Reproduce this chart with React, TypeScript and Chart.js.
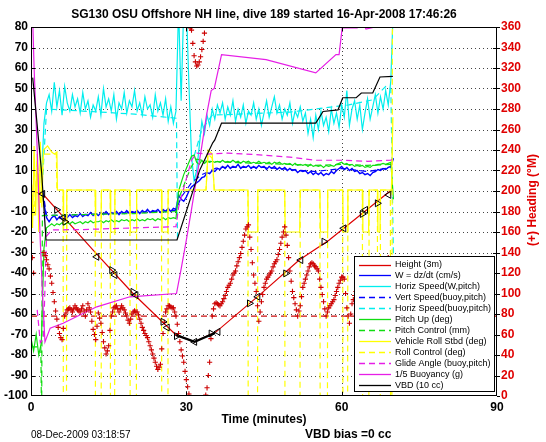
import React, { useEffect, useRef } from 'react';
import { Chart, registerables } from 'chart.js';

Chart.register(...registerables);

const FONT = '"Liberation Sans", Arial, Helvetica, sans-serif';

const titleText = 'SG130 OSU Offshore NH line, dive 189 started 16-Apr-2008 17:46:26';
const xTitle = 'Time (minutes)';
const y2Title = '(+) Heading (\u00B0M)';
const dateText = '08-Dec-2009 03:18:57';
const biasText = 'VBD bias =0 cc';

const xTicks = [0, 30, 60, 90];
const yTicks = [-100, -90, -80, -70, -60, -50, -40, -30, -20, -10, 0, 10, 20, 30, 40, 50, 60, 70, 80];
const y2Ticks = [0, 20, 40, 60, 80, 100, 120, 140, 160, 180, 200, 220, 240, 260, 280, 300, 320, 340, 360];

const legendLabels = [
  'Height (3m)',
  'W = dz/dt (cm/s)',
  'Horiz Speed(W,pitch)',
  'Vert Speed(buoy,pitch)',
  'Horiz Speed(buoy,pitch)',
  'Pitch Up (deg)',
  'Pitch Control (mm)',
  'Vehicle Roll Stbd (deg)',
  'Roll Control (deg)',
  'Glide Angle (buoy,pitch)',
  '1/5 Buoyancy (g)',
  'VBD (10 cc)',
];

// shared sampling grid (minutes)
const tGrid = [
  0, 0.5, 1, 1.5, 2, 2.5, 3, 3.5, 4, 4.5,
  5, 5.5, 6, 6.5, 7, 7.5, 8, 8.5, 9, 9.5,
  10, 10.5, 11, 11.5, 12, 12.5, 13, 13.5, 14, 14.5,
  15, 15.5, 16, 16.5, 17, 17.5, 18, 18.5, 19, 19.5,
  20, 20.5, 21, 21.5, 22, 22.5, 23, 23.5, 24, 24.5,
  25, 25.5, 26, 26.5, 27, 27.5, 28, 28.5, 29, 29.5,
  30, 30.5, 31, 31.5, 32, 32.5, 33, 33.5, 34, 34.5,
  35, 35.5, 36, 36.5, 37, 37.5, 38, 38.5, 39, 39.5,
  40, 40.5, 41, 41.5, 42, 42.5, 43, 43.5, 44, 44.5,
  45, 45.5, 46, 46.5, 47, 47.5, 48, 48.5, 49, 49.5,
  50, 50.5, 51, 51.5, 52, 52.5, 53, 53.5, 54, 54.5,
  55, 55.5, 56, 56.5, 57, 57.5, 58, 58.5, 59, 59.5,
  60, 60.5, 61, 61.5, 62, 62.5, 63, 63.5, 64, 64.5,
  65, 65.5, 66, 66.5, 67, 67.5, 68, 68.5, 69, 69.5,
  70,
];

// offset grid for the denser heading samples
const tGridQ = [
  0.25, 0.75, 1.25, 1.75, 2.25, 2.75, 3.25, 3.75, 4.25, 4.75,
  5.25, 5.75, 6.25, 6.75, 7.25, 7.75, 8.25, 8.75, 9.25, 9.75,
  10.25, 10.75, 11.25, 11.75, 12.25, 12.75, 13.25, 13.75, 14.25, 14.75,
  15.25, 15.75, 16.25, 16.75, 17.25, 17.75, 18.25, 18.75, 19.25, 19.75,
  20.25, 20.75, 21.25, 21.75, 22.25, 22.75, 23.25, 23.75, 24.25, 24.75,
  25.25, 25.75, 26.25, 26.75, 27.25, 27.75, 28.25, 28.75, 29.25, 29.75,
  30.25, 30.75, 31.25, 31.75, 32.25, 32.75, 33.25, 33.75, 34.25, 34.75,
  35.25, 35.75, 36.25, 36.75, 37.25, 37.75, 38.25, 38.75, 39.25, 39.75,
  40.25, 40.75, 41.25, 41.75, 42.25, 42.75, 43.25, 43.75, 44.25, 44.75,
  45.25, 45.75, 46.25, 46.75, 47.25, 47.75, 48.25, 48.75, 49.25, 49.75,
  50.25, 50.75, 51.25, 51.75, 52.25, 52.75, 53.25, 53.75, 54.25, 54.75,
  55.25, 55.75, 56.25, 56.75, 57.25, 57.75, 58.25, 58.75, 59.25, 59.75,
  60.25, 60.75, 61.25, 61.75, 62.25, 62.75, 63.25, 63.75, 64.25, 64.75,
  65.25, 65.75, 66.25, 66.75, 67.25, 67.75, 68.25, 68.75, 69.25, 69.75,
];

const horizSpeedW = [
  null, null, null, null, 4, 33, 43, 47, 39, 53,
  41, 49, 37, 51, 43, 39, 47, 41, 45, 38,
  48, 40, 44, 36, 42, 39, 46, 37, 50, 41,
  45, 39, 47, 35, 43, 40, 48, 38, 44, 41,
  49, 39, 43, 37, 46, 40, 42, 36, 47, 39,
  43, 37, 45, 34, 41, 33, 39, 90, 44, 90,
  90, 52, 17, 5, 10, 22, 34, 28, 37, 32,
  40, 35, 42, 38, 43, 35, 41, 37, 44, 34,
  40, 36, 42, 33, 39, 37, 43, 35, 40, 32,
  38, 44, 36, 41, 46, 38, 42, 35, 40, 37,
  43, 33, 39, 36, 41, 34, 38, 28, 35, 26,
  37, 30, 39, 32, 36, 29, 40, 33, 38, 31,
  42, 36, 49, 32, 40, 44, 35, 42, 30, 38,
  45, 35, 41, 47, 38, 46, 40, 49, 42, 54,
  92,
];

const wSpeed = [
  null, null, null, null, 0, -6, -13, -15, -13, -12,
  -14, -12.5, -13.5, -12, -13, -11.5, -13, -12, -12.5, -11,
  -12.5, -11.5, -12, -10.5, -12, -11, -12, -10.5, -11.5, -10,
  -11.5, -10.5, -11, -10, -11.5, -10, -11, -9.5, -11, -10,
  -10.5, -9.5, -11, -9.5, -10.5, -9, -10.5, -9.5, -10, -9,
  -10.5, -9, -10, -8.5, -10, -8.5, -9, -2, -4, -5,
  -3, 0, 2, 3, 4, 5, 6.5, 7, 9, 8.5,
  10, 9.5, 11, 10.5, 12, 11, 12.5, 11, 12, 11.5,
  13, 11, 12, 11.5, 12.5, 11, 12, 11, 12.5, 11.5,
  12, 10.5, 12, 11, 12, 10.5, 11.5, 10.5, 11.5, 10,
  11, 10, 10.5, 9, 10, 9.5, 10, 8.5, 9.5, 8,
  9, 8, 9, 7.5, 8.5, 8, 9.5, 8.5, 10, 11,
  12, 10.5, 11.5, 10, 11, 9.5, 10, 8.5, 9, 8,
  8.5, 7.5, 9, 9.5, 10.5, 10, 11, 10.5, 11.5, 12,
  16,
];

const pitchUp = [
  -72, -78, -70, -80, -74, -28, -18, -17, -16, -17,
  -16, -16.5, -15.5, -16.5, -15.5, -16, -15, -16, -15.5, -15,
  -16, -15, -15.5, -14.5, -15.5, -15, -15, -14.5, -15.5, -14.5,
  -15, -14, -15, -14.5, -15, -14, -14.5, -14, -15, -14,
  -14.5, -13.5, -14.5, -14, -14.5, -13.5, -14, -13.5, -14.5, -13.5,
  -14, -13, -14, -13, -13.5, -13, -13.5, 0, 4, 8,
  11, 14, 17, 17.5, 14, 13, 15, 13.5, 14.5, 14,
  14.5, 14, 14.5, 14, 15, 14, 14.5, 14, 15, 14,
  14.5, 13.5, 14.5, 14, 14.5, 13.5, 14, 13.5, 14.5, 13.5,
  14, 13.5, 14, 13, 14, 13.5, 14, 13, 13.5, 13,
  13.5, 12.5, 13.5, 12.5, 13, 12.5, 13, 12, 13, 12,
  12.5, 12, 12.5, 11.5, 12.5, 12, 12.5, 12, 13, 13.5,
  14, 13, 13.5, 12.5, 13, 12, 12.5, 12, 12.5, 11.5,
  12, 11.5, 12.5, 12.5, 13, 13, 13.5, 13, 13.5, 14,
  -4,
];

// heading in degrees (right axis), on tGrid
const heading = [
  150, 120, null, null, null, 140, 133, 124, 110, 92,
  75, 61, 55, 78, 84, 86, 82, 88, 84, 82,
  88, 78, 90, 82, 65, 55, 81, 71, 53, 41,
  49, 78, 86, 88, 82, 88, 84, 78, 71, 80,
  83, 82, 75, 67, 61, 57, 49, 41, 33, 26,
  31, 61, 82, 88, 87, 86, 78, 61, 45, 33,
  16, 2, 357, 332, 322, 326, 338, 354, 8, 33,
  78, 90, 90, 88, 92, 98, 106, 110, 118, 122,
  131, 139, 151, 163, 167, 143, 118, 102, 73, 92,
  106, 114, 118, 122, 129, 133, 143, 155, 165, 147,
  122, 102, 90, 78, 88, 106, 114, 122, 129, 129,
  126, 122, 106, 92, 78, 86, 90, 94, 102, 110,
  116, 114, 86, 71, 90, 98, 106, 112, 118, 122,
  126, 129, 122, 112, 102, 114, 122, 131, 135, null,
  null,
];

// heading in degrees, on tGridQ
const headingQ = [
  135, null, null, null, null, 137, 128, 117, 101, 83,
  67, 57, 66, 81, 85, 84, 85, 86, 83, 85,
  83, 84, 86, 73, 60, 68, 76, 62, 47, 44,
  64, 82, 87, 85, 85, 86, 81, 74, 75, 82,
  82, 79, 71, 64, 59, 53, 45, 37, 29, 28,
  46, 72, 85, 88, 86, 82, 70, 53, 39, 24,
  9, 359, 344, 326, 323, 331, 346, 1, 20, 56,
  85, 91, 89, 90, 95, 102, 108, 114, 120, 127,
  135, 145, 157, 165, 155, 130, 110, 88, 82, 99,
  110, 116, 120, 126, 131, 138, 149, 160, 157, 135,
  112, 96, 84, 83, 97, 110, 118, 126, 130, 127,
  124, 114, 99, 85, 82, 88, 92, 98, 106, 113,
  116, 100, 78, 80, 94, 102, 109, 115, 120, 124,
  128, 126, 117, 107, 108, 118, 127, 133, null, null,
];

const headingTargetTime = [0, 90];
const headingTarget = [78, 78];

const heightTime = [0, 2.25, 12.0, 19.7, 28.05, 31.6, 35.75, 44.1, 51.8, 57.6, 69.85];
const heightVal = [0, -1.4, -28.8, -50, -70.3, -73.6, -68.7, -50.8, -33.7, -23.9, 1];

const apogeeTime = [28.05, 31.6, 35.5];
const apogeeVal = [-70.3, -73.6, -69.3];

const markTime = [2.25, 4.96, 6.2, 6.56, 12.7, 15.6, 16.2, 19.7, 20.25, 25.5, 26.3, 28.1, 31.6, 34.8, 36.1, 42.2, 43.8, 49.2, 52.1, 56.6, 60.4, 64.0, 64.6, 66.9, 69.1];
const markVal = [-1.4, -9.2, -13.1, -15, -32.1, -38.6, -41, -49.2, -50.8, -63.8, -66.6, -70.8, -73.6, -69.5, -68.7, -54.8, -51.6, -40.2, -33.7, -24.7, -18.2, -11.2, -9.2, -6, -1.9];

const vbdTime = [0.33, 2.06, 2.9, 28.2, 32.6, 35.1, 35.5, 36.8, 55.0, 56.4, 59.3, 60.2, 62.8, 63.8, 66.0, 67.4, 69.9];
const vbdVal = [55.3, 8.8, -23.9, -23.9, 10.3, 23.5, 24.9, 33.1, 33.1, 38.8, 39.6, 45.5, 45.5, 47.8, 47.8, 55.6, 55.9];

const buoyTime = [0.2, 0.6, 1.2, 1.8, 2.3, 2.7, 3.7, 6.2, 12.7, 19.1, 28.1, 29, 30, 31, 32, 33, 33.9, 34.8, 35.4, 36.8, 45.4, 55.0, 58.9, 59.5, 60.1, 63.0, 63.7, 64.7, 69.9];
const buoyVal = [95, 60, 20, -25, -55, -73.6, -66.9, -64.5, -56.5, -51.6, -50, -38, -24, -9, 6.5, 22, 37, 49, 50, 66.5, 64.1, 57.6, 66.5, 66.5, 79.6, 79.6, 84, 79, 82];

const glideTime = [1.2, 1.8, 2.4, 3.0, 4, 10, 20, 28, 28.5, 30, 31, 32, 34, 38, 45, 50, 55, 60, 65, 69.5, 70];
const glideVal = [-58, -74, -72, -22, -19, -18.8, -18, -17.4, -8, 6, 15, 18.5, 18, 18.5, 17.5, 16.5, 15, 15, 14.5, 15, 16];

const vertBuoyTime = [2.3, 3, 10, 20, 28, 29, 31, 33, 36, 45, 55, 60, 65, 69.5];
const vertBuoyVal = [0, -12, -11.5, -10.5, -9.5, -3, 4, 8, 11.5, 11.5, 9.5, 11, 9.5, 11.5];

const horizBuoyTime = [2.3, 3, 10, 20, 28.1, 28.3, 28.4, 31.5, 33, 35, 40, 45, 50, 55, 61.4, 66, 68.5, 69.5, 70];
const horizBuoyVal = [8, 40, 39, 37.5, 35.5, -25, null, 17, 30, 37, 37.5, 38, 38.5, 40, 42, 44.5, 51, 50, -33];

const pitchCtrlTime = [0, 1.9, 2.05, 2.2, 10, 20, 28, 28.5, 30, 31, 32, 34, 40, 50, 55, 60, 65, 69.5, 70];
const pitchCtrlVal = [-76, -76, -115, -12, -11.5, -11, -10, -4, 6, 12, 15.5, 14.5, 13.8, 13, 12.5, 13, 12.5, 13, 13];

const rollTime = [
  0, 0.3, 0.6, 0.9, 1.2, 1.5, 1.8, 2.1, 2.4, 3.2, 4, 4.5, 5, 5.1,
  6.2, 6.3, 6.8, 6.9, 12.4, 12.5, 13.5, 13.6, 15.3, 15.4, 16.1, 16.2,
  19.1, 19.2, 20.3, 20.4, 25.2, 25.3, 26.4, 26.5,
  33.8, 34.2, 35, 35.4,
  41.9, 42, 43.7, 43.8, 49, 49.1, 51.9, 52, 55.8, 55.9, 57.2, 57.3,
  60.2, 60.3, 61.1, 61.2, 64, 64.1, 65.2, 65.3, 66.9, 67, 67.4, 67.5,
  69.6, 69.9,
];
const rollVal = [
  12, -18, 22, -12, 18, -20, 24, -8, 20, 22, 19, 18, 19, 0.5,
  0.5, -20, -20, 0.5, 0.5, -20, -20, 0.5, 0.5, -20, -20, 0.5,
  0.5, -20, -20, 0.5, 0.5, -20, -20, 0.5,
  0.5, 20, 18, 0.5,
  0.5, -20, -20, 0.5, 0.5, -20, -20, 0.5, 0.5, -20, -20, 0.5,
  0.5, -20, -20, 0.5, 0.5, -20, -20, 0.5, 0.5, -20, -20, 0.5,
  0.5, 36,
];

const rollCtrlTime = [
  0, 0.6, 1.2, 1.8, 2.4, 4.9, 5,
  6.2, 6.25, 6.85, 6.9, 12.4, 12.45, 13.55, 13.6, 15.3, 15.35, 16.15, 16.2,
  19.1, 19.15, 20.35, 20.4, 25.2, 25.25, 26.45, 26.5,
  33.8, 34.2, 35, 35.4,
  41.9, 41.95, 43.75, 43.8, 49, 49.05, 51.95, 52, 55.8, 55.85, 57.25, 57.3,
  60.2, 60.25, 61.15, 61.2, 64, 64.05, 65.25, 65.3, 66.9, 66.95, 67.45, 67.5,
  69.4, 69.45, 69.7, 69.8,
];
const rollCtrlVal = [
  8, -12, 15, -6, 18, 18, 0.5,
  0.5, -115, -115, 0.5, 0.5, -115, -115, 0.5, 0.5, -115, -115, 0.5,
  0.5, -115, -115, 0.5, 0.5, -115, -115, 0.5,
  0.5, 18, 16, 0.5,
  0.5, -115, -115, 0.5, 0.5, -115, -115, 0.5, 0.5, -115, -115, 0.5,
  0.5, -115, -115, 0.5, 0.5, -115, -115, 0.5, 0.5, -115, -115, 0.5,
  0.5, -115, -115, 85,
];

const zip = (ts: number[], vs: (number | null)[]) => ts.map((t, i) => ({ x: t, y: vs[i] }));

const RED = '#dd0000';
const BLUE = '#0000ff';
const CYAN = '#00eeee';
const GREEN = '#11dd11';
const YELLOW = '#ffff00';
const MAGENTA = '#e61ee6';
const BLACK = '#000000';
const DASH = [6, 4];

const legendStyles = [
  { color: RED, dash: [] as number[] },
  { color: BLUE, dash: [] },
  { color: CYAN, dash: [] },
  { color: BLUE, dash: DASH },
  { color: CYAN, dash: DASH },
  { color: GREEN, dash: [] },
  { color: GREEN, dash: DASH },
  { color: YELLOW, dash: [] },
  { color: YELLOW, dash: DASH },
  { color: MAGENTA, dash: DASH },
  { color: MAGENTA, dash: [] },
  { color: BLACK, dash: [] },
];

function line(label: string, data: any[], color: string, order: number, extra: any = {}) {
  return {
    label,
    data,
    showLine: true,
    borderColor: color,
    backgroundColor: color,
    borderWidth: 1.2,
    pointRadius: 0,
    spanGaps: false,
    clip: 0,
    order,
    yAxisID: 'y',
    ...extra,
  };
}

function crosses(label: string, data: any[], order: number) {
  return {
    label,
    data,
    showLine: false,
    pointStyle: 'cross',
    pointRadius: 2.6,
    pointBorderColor: '#cc0000',
    pointBorderWidth: 1.1,
    clip: 0,
    order,
    yAxisID: 'y2',
  };
}

export default function App() {
  const ref = useRef<HTMLCanvasElement>(null);

  useEffect(() => {
    const canvas = ref.current!;
    const datasets: any[] = [
      {
        label: 'marks',
        data: zip(markTime, markVal),
        showLine: false,
        pointStyle: 'triangle',
        pointRadius: 4,
        pointBorderColor: '#000',
        pointBackgroundColor: 'rgba(0,0,0,0)',
        pointBorderWidth: 1,
        pointRotation: (c: any) => (c.dataIndex % 2 ? 90 : -90),
        clip: 0,
        order: 0,
        yAxisID: 'y',
      },
      crosses('heading', zip(tGrid, heading), 1),
      crosses('headingQ', zip(tGridQ, headingQ), 1),
      line('apogee', zip(apogeeTime, apogeeVal), BLACK, 2, { borderWidth: 2.2 }),
      line('vbd', zip(vbdTime, vbdVal), BLACK, 3),
      line('buoy', zip(buoyTime, buoyVal), MAGENTA, 4),
      line('glide', zip(glideTime, glideVal), MAGENTA, 5, { borderDash: DASH }),
      line('rollCtrl', zip(rollCtrlTime, rollCtrlVal), YELLOW, 6, { borderDash: DASH }),
      line('roll', zip(rollTime, rollVal), YELLOW, 7),
      line('pitchCtrl', zip(pitchCtrlTime, pitchCtrlVal), GREEN, 8, { borderDash: DASH }),
      line('pitch', zip(tGrid, pitchUp), GREEN, 9),
      line('horizBuoy', zip(horizBuoyTime, horizBuoyVal), CYAN, 10, { borderDash: DASH }),
      line('vertBuoy', zip(vertBuoyTime, vertBuoyVal), BLUE, 11, { borderDash: DASH }),
      line('horizW', zip(tGrid, horizSpeedW), CYAN, 12),
      line('w', zip(tGrid, wSpeed), BLUE, 13, { borderWidth: 1.4 }),
      line('height', zip(heightTime, heightVal), RED, 14),
      line('target', zip(headingTargetTime, headingTarget), '#cc1111', 15, { borderDash: [6, 4], yAxisID: 'y2' }),
    ];

    const decor = {
      id: 'decor',
      beforeDatasetsDraw(chart: any) {
        const { ctx, chartArea: a, scales } = chart;
        ctx.save();
        ctx.strokeStyle = '#444';
        ctx.lineWidth = 1;
        ctx.setLineDash([1, 3]);
        yTicks.slice(1, -1).forEach((v) => {
          const y = Math.round(scales.y.getPixelForValue(v)) + 0.5;
          ctx.beginPath();
          ctx.moveTo(a.left, y);
          ctx.lineTo(a.right, y);
          ctx.stroke();
        });
        xTicks.slice(1, -1).forEach((v) => {
          const x = Math.round(scales.x.getPixelForValue(v)) + 0.5;
          ctx.beginPath();
          ctx.moveTo(x, a.top);
          ctx.lineTo(x, a.bottom);
          ctx.stroke();
        });
        ctx.restore();
      },
      afterDraw(chart: any) {
        const { ctx, chartArea: a, scales } = chart;
        ctx.save();
        // frame
        ctx.strokeStyle = '#000';
        ctx.lineWidth = 1;
        ctx.setLineDash([]);
        ctx.strokeRect(Math.round(a.left) + 0.5, Math.round(a.top) + 0.5, Math.round(a.right - a.left) - 1, Math.round(a.bottom - a.top) - 1);
        // ticks
        ctx.beginPath();
        yTicks.slice(1, -1).forEach((v) => {
          const y = Math.round(scales.y.getPixelForValue(v)) + 0.5;
          ctx.moveTo(a.left, y);
          ctx.lineTo(a.left + 4, y);
          ctx.moveTo(a.right, y);
          ctx.lineTo(a.right - 4, y);
        });
        xTicks.slice(1, -1).forEach((v) => {
          const x = Math.round(scales.x.getPixelForValue(v)) + 0.5;
          ctx.moveTo(x, a.bottom);
          ctx.lineTo(x, a.bottom - 4);
          ctx.moveTo(x, a.top);
          ctx.lineTo(x, a.top + 4);
        });
        y2Ticks.forEach((v) => {
          const y = Math.round(scales.y2.getPixelForValue(v)) + 0.5;
          ctx.moveTo(a.right, y);
          ctx.lineTo(a.right + 3, y);
        });
        ctx.stroke();

        // legend
        const lx = 354, ly = 256, lw = 140, lh = 135;
        ctx.fillStyle = '#fff';
        ctx.fillRect(lx, ly, lw, lh);
        ctx.strokeStyle = '#000';
        ctx.strokeRect(lx + 0.5, ly + 0.5, lw, lh);
        ctx.font = `9px ${FONT}`;
        ctx.textBaseline = 'middle';
        ctx.textAlign = 'left';
        legendLabels.forEach((lab, i) => {
          const y = ly + 8.5 + i * 10.92;
          const st = legendStyles[i];
          ctx.strokeStyle = st.color;
          ctx.lineWidth = 1.3;
          ctx.setLineDash(st.dash);
          ctx.beginPath();
          ctx.moveTo(359, Math.round(y) + 0.5);
          ctx.lineTo(391, Math.round(y) + 0.5);
          ctx.stroke();
          ctx.setLineDash([]);
          ctx.fillStyle = '#000';
          ctx.fillText(lab, 395, y + 0.5);
        });

        // texts
        ctx.fillStyle = '#000';
        ctx.textAlign = 'center';
        ctx.font = `bold 12px ${FONT}`;
        ctx.fillText(titleText, 264, 14.5);
        ctx.fillText(xTitle, 264, 420);
        ctx.textAlign = 'left';
        ctx.fillText(biasText, 305, 435);
        ctx.font = `10px ${FONT}`;
        ctx.fillText(dateText, 31, 435);
        ctx.save();
        ctx.translate(533, 200);
        ctx.rotate(-Math.PI / 2);
        ctx.textAlign = 'center';
        ctx.fillStyle = '#e00000';
        ctx.font = `bold 12px ${FONT}`;
        ctx.fillText(y2Title, 0, 0);
        ctx.restore();
        ctx.restore();
      },
    };

    const tickFont = { family: FONT, size: 12, weight: 'bold' as const };

    const chart = new Chart(canvas, {
      type: 'scatter',
      data: { datasets },
      options: {
        responsive: false,
        animation: false,
        devicePixelRatio: 1,
        events: [],
        layout: { padding: { top: 27, left: 0, right: 0, bottom: 0 } },
        plugins: {
          legend: { display: false },
          tooltip: { enabled: false },
          title: { display: false },
        },
        elements: { line: { tension: 0 } },
        scales: {
          x: {
            type: 'linear',
            position: 'bottom',
            min: 0,
            max: 90,
            afterBuildTicks: (s: any) => { s.ticks = xTicks.map((value) => ({ value })); },
            afterFit: (s: any) => { s.height = 46; },
            ticks: { font: tickFont, color: '#000', padding: 4, maxRotation: 0, autoSkip: false },
            grid: { display: false, drawTicks: false },
            border: { display: false },
          },
          y: {
            type: 'linear',
            position: 'left',
            min: -100,
            max: 80,
            afterBuildTicks: (s: any) => { s.ticks = yTicks.map((value) => ({ value })); },
            afterFit: (s: any) => { s.width = 31; },
            ticks: { font: tickFont, color: '#000', padding: 3, autoSkip: false },
            grid: { display: false, drawTicks: false },
            border: { display: false },
          },
          y2: {
            type: 'linear',
            position: 'right',
            min: 0,
            max: 360,
            afterBuildTicks: (s: any) => { s.ticks = y2Ticks.map((value) => ({ value })); },
            afterFit: (s: any) => { s.width = 49; },
            ticks: { font: tickFont, color: '#e00000', padding: 4, autoSkip: false },
            grid: { display: false, drawTicks: false },
            border: { display: false },
          },
        },
      } as any,
      plugins: [decor],
    });
    return () => chart.destroy();
  }, []);

  return (
    <div style={{ position: 'fixed', left: 0, top: 0, width: 546, height: 442, background: '#fff' }}>
      <canvas ref={ref} width={546} height={442} style={{ width: 546, height: 442, display: 'block' }} />
    </div>
  );
}
